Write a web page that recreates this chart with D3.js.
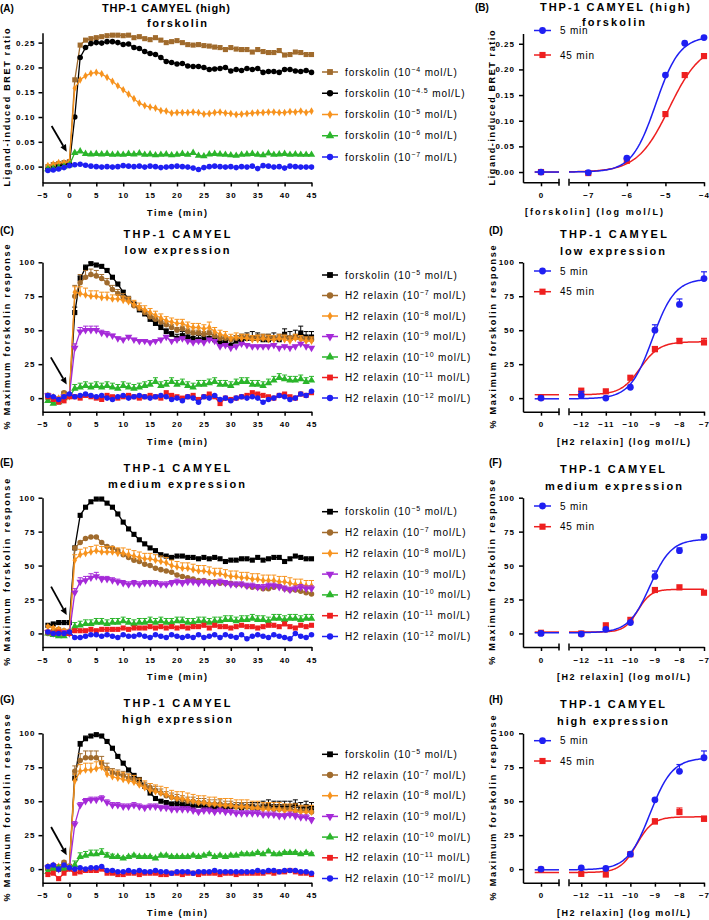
<!DOCTYPE html>
<html><head><meta charset="utf-8">
<script src="https://cdn.jsdelivr.net/npm/d3@7/dist/d3.min.js"></script>
<style>
html,body{margin:0;padding:0;background:#fff;}
svg text{font-family:'Liberation Sans',Arial,Helvetica,sans-serif;fill:#000;}
</style></head><body>
<svg id="chart" width="709" height="920"></svg>
<script>
// ---------------- DATA ----------------
const time = [-4,-3,-2,-1,0,1,2,3,4,5,6,7,8,9,10,11,12,13,14,15,16,17,18,19,20,21,22,23,24,25,26,27,28,29,30,31,32,33,34,35,36,37,38,39,40,41,42,43,44,45];
const timeTicks = [-5,0,5,10,15,20,25,30,35,40,45];
const bretTicks = [0,0.05,0.10,0.15,0.20,0.25];
const pctTicks = [0,25,50,75,100];

// Panel A (BRET ratio)
const A_fsk4 = [0.000,0.004,0.006,0.008,0.010, 0.175,0.245,0.255,0.258,0.260,0.262,0.264,0.265,0.265,0.264, 0.265,0.260,0.262,0.258,0.256,0.260,0.255,0.250,0.252,0.254, 0.250,0.246,0.245,0.246,0.244,0.243,0.241,0.240,0.236,0.240, 0.237,0.236,0.236,0.231,0.236,0.232,0.230,0.230,0.234,0.225, 0.226,0.231,0.230,0.226,0.226];
const A_fsk45 = [-0.006,-0.004,0.000,0.004,0.005, 0.100,0.220,0.240,0.248,0.250,0.249,0.252,0.252,0.250,0.246, 0.247,0.240,0.238,0.232,0.228,0.226,0.220,0.212,0.210,0.207, 0.208,0.203,0.202,0.202,0.200,0.196,0.197,0.198,0.200,0.193, 0.196,0.194,0.198,0.196,0.198,0.190,0.192,0.192,0.190,0.196, 0.196,0.193,0.192,0.194,0.190];
const A_fsk5 = [0.002,0.005,0.008,0.008,0.010, 0.158,0.175,0.183,0.188,0.190,0.187,0.180,0.172,0.163,0.155, 0.146,0.137,0.128,0.123,0.120,0.118,0.113,0.112,0.108,0.109, 0.109,0.109,0.110,0.109,0.106,0.107,0.109,0.110,0.108,0.107, 0.105,0.106,0.107,0.108,0.109,0.109,0.110,0.110,0.109,0.109, 0.111,0.110,0.112,0.109,0.112];
const A_fsk6 = [-0.005,-0.004,-0.002,0.000,0.003, 0.028,0.031,0.026,0.025,0.026,0.025,0.026,0.024,0.025,0.024, 0.026,0.025,0.027,0.024,0.025,0.023,0.024,0.025,0.023,0.024, 0.026,0.024,0.028,0.022,0.021,0.025,0.026,0.025,0.024,0.023, 0.022,0.024,0.025,0.026,0.024,0.023,0.027,0.024,0.025,0.026, 0.024,0.025,0.024,0.024,0.024];
const A_fsk7 = [-0.008,-0.007,-0.005,-0.002,0.002, 0.004,0.005,0.003,0.001,0.000,-0.001,0.000,-0.001,0.000,0.002, 0.001,0.000,0.001,-0.001,0.001,0.000,-0.002,-0.001,0.000,0.001, 0.000,-0.001,-0.003,-0.006,-0.002,0.000,0.001,0.000,-0.001,0.000, -0.002,0.000,-0.001,0.001,-0.004,0.002,0.001,-0.001,0.000,-0.003, 0.001,0.000,-0.001,-0.001,-0.001];
const A_conc = ["\u22124","\u22124.5","\u22125","\u22126","\u22127"];

// Panel C (low expression), % max forskolin
const C_fsk = [2,0,-2,3,2, 63,88,96,99,98,97,94,89,84,78, 73,69,65,62,58,55,52,49,47,44, 46,45,44,43,44,44,43,41,41,39, 42,43,44,44,44,43,43,44,43,47, 44,45,48,45,45];
const C_fsk_err = [0,0,0,0,0, 4,2,2,1,1,1,1,1,1,1, 1,1,1,2,2,2,2,2,2,3, 3,3,3,3,3,3,3,4,3,4, 4,4,4,5,4,4,4,4,4,4, 5,5,5,4,4];
const C_rlx7 = [1,0,-1,4,2, 75,85,89,91,90,88,85,80,77,74, 72,68,66,63,60,58,56,54,52,50, 51,49,48,48,47,48,46,44,44,43, 44,45,45,44,45,44,45,44,44,45, 44,45,44,43,43];
const C_rlx7_err = [1,1,1,1,1, 8,6,5,4,4,3,3,3,3,3, 3,3,2,2,2,2,2,2,2,2, 2,2,2,2,2,2,2,2,2,2, 2,2,2,2,2,2,2,2,2,2, 2,2,2,2,2];
const C_rlx8 = [2,1,0,2,1, 78,77,76,75,75,74,74,73,73,72, 71,69,67,65,63,61,59,57,56,55, 55,53,52,52,51,52,49,47,46,44, 45,44,44,43,43,44,43,43,44,43, 42,44,43,42,42];
const C_rlx8_err = [1,1,1,1,1, 4,5,5,4,4,4,4,3,3,3, 3,3,3,3,3,3,3,3,3,3, 3,3,3,3,3,4,3,3,3,3, 3,3,3,3,3,3,3,3,3,3, 3,3,3,3,3];
const C_rlx9 = [2,0,-1,1,2, 37,49,50,50,50,48,47,46,44,43, 45,43,42,42,41,42,43,45,42,43, 44,42,41,42,41,43,42,38,39,37, 38,40,39,38,38,38,38,39,37,38, 37,38,40,38,37];
const C_rlx9_err = [1,1,1,1,1, 3,3,3,3,3,2,2,1,1,1, 1,1,1,1,1,1,1,1,1,1, 1,1,1,1,1,1,1,1,1,1, 1,1,1,1,1,1,1,1,1,1, 1,1,1,1,1];
const C_rlx10 = [-2,-4,-3,0,1, 7,8,9,8,9,8,9,8,7,9, 8,7,8,9,10,12,9,10,12,10, 11,9,8,10,10,11,12,10,10,9, 11,12,12,10,10,9,11,13,15,14, 13,13,14,12,13];
const C_rlx10_err = [1,1,1,1,1, 3,3,3,3,3,3,3,3,3,3, 3,3,3,3,3,3,3,3,3,3, 3,3,3,3,3,3,3,3,3,3, 3,3,3,3,3,3,3,3,3,3, 3,3,3,3,3];
const C_rlx11 = [1,-1,-3,-2,1, 1,0,2,1,0,-1,2,1,0,1, 2,1,0,1,2,1,0,4,2,1, 0,1,2,-1,1,3,1,-4,0,-1, 0,1,2,4,3,2,1,0,2,3, 1,0,3,2,4];
const C_rlx12 = [2,1,-1,1,3, 1,2,3,2,1,2,0,-1,1,2, 0,1,2,1,0,1,2,1,-1,0, -2,1,0,-3,1,0,2,-1,0,-2, 0,1,0,1,0,-3,-1,0,2,1, -1,0,3,2,5];

// Panel E (medium expression)
const E_fsk = [6,7,8,8,8, 63,87,93,97,99,99,96,93,88,82, 77,73,69,66,63,61,58,57,56,57, 57,56,56,55,56,55,56,55,53,54, 54,55,55,54,56,54,55,56,56,53, 55,57,56,55,55];
const E_rlx7 = [0,2,3,2,1, 63,67,70,71,71,67,64,63,61,58, 56,54,53,51,50,48,47,46,45,43, 42,41,40,39,39,38,38,37,37,37, 36,36,35,34,34,33,33,34,35,33, 32,32,31,30,29];
const E_rlx8 = [5,4,3,2,2, 54,58,59,60,61,60,60,60,59,59, 58,57,56,55,55,54,53,52,50,49, 48,48,47,46,46,45,44,44,43,42, 42,41,41,40,40,39,39,39,38,38, 37,36,36,35,35];
const E_rlx8_err = [1,1,1,1,1, 4,4,4,4,4,4,4,4,4,4, 4,4,4,4,4,4,4,4,4,4, 4,4,4,4,4,4,4,4,4,4, 4,4,4,4,4,4,4,4,4,4, 4,4,4,4,4];
const E_rlx9 = [1,0,0,1,0, 30,38,39,41,42,40,40,39,38,37, 36,37,36,37,37,37,36,36,37,38, 37,38,38,37,38,37,37,38,37,36, 36,36,35,35,34,34,35,35,34,33, 32,33,34,33,33];
const E_rlx9_err = [1,1,1,1,1, 3,3,3,3,3,2,2,2,2,2, 2,2,2,2,2,2,2,2,2,2, 2,2,2,2,2,2,2,2,2,2, 2,2,2,2,2,2,2,2,2,2, 2,2,2,2,2];
const E_rlx10 = [0,-1,-2,-2,0, 5,6,7,7,8,8,7,8,8,9, 8,7,8,8,9,8,9,8,8,9, 9,8,8,9,9,8,9,9,10,10, 9,10,10,11,10,10,9,11,11,10, 11,11,10,11,11];
const E_rlx10_err = [1,1,1,1,1, 3,3,3,3,3,3,3,3,3,3, 3,3,3,3,3,3,3,3,3,3, 3,3,3,3,3,3,3,3,3,3, 3,3,3,3,3,3,3,3,3,3, 3,3,3,3,3];
const E_rlx11 = [1,0,1,0,0, 2,2,2,3,2,3,3,3,3,4, 3,4,4,4,5,4,5,4,5,4, 5,4,5,5,6,4,6,5,5,4, 5,6,5,5,4,5,6,6,5,7, 5,4,6,5,6];
const E_rlx12 = [1,0,0,0,1, -3,-3,-2,-1,-1,-2,-1,-2,-3,-1, -2,-2,-1,-2,-3,-1,-2,-3,-1,-2, -3,-2,-3,-1,-3,-2,-1,-3,-1,-2, -3,-1,-4,-2,-1,-2,-3,-1,-2,-3, -4,0,-2,-3,-1];

// Panel G (high expression)
const G_fsk = [1,2,0,3,2, 67,92,96,98,99,98,94,89,83,78, 73,69,66,61,56,52,50,49,48,48, 47,47,46,47,46,46,45,46,45,46, 46,45,46,46,45,46,47,46,46,46, 46,47,45,46,45];
const G_fsk_err = [0,0,0,0,0, 3,2,2,1,1,1,1,1,1,1, 1,1,1,1,1,1,1,1,1,2, 2,2,2,2,2,2,2,2,2,2, 3,3,3,3,4,4,4,4,4,4, 4,4,4,4,4];
const G_rlx7 = [0,1,2,5,2, 72,80,82,82,82,78,74,71,70,69, 67,66,63,61,60,58,56,54,53,52, 51,50,50,49,49,48,48,48,47,47, 46,46,46,45,45,45,45,44,44,44, 44,43,43,43,42];
const G_rlx7_err = [1,1,1,1,1, 4,5,5,5,5,5,4,3,3,3, 3,3,3,3,3,3,3,3,3,3, 3,3,3,3,3,3,3,3,3,3, 3,3,3,3,3,3,3,3,3,3, 3,3,3,3,3];
const G_rlx8 = [2,3,2,3,2, 65,72,73,73,74,75,70,68,67,66, 65,64,62,60,58,57,56,55,53,52, 52,51,50,49,49,48,48,47,47,47, 46,46,46,45,45,44,44,44,44,43, 43,43,42,42,42];
const G_rlx8_err = [1,1,1,1,1, 5,5,5,5,5,5,5,5,5,5, 5,5,5,5,5,5,5,5,5,5, 5,5,5,5,5,5,5,5,5,5, 5,5,5,5,5,5,5,5,5,5, 5,5,5,5,5];
const G_rlx9 = [1,2,0,1,1, 33,47,50,51,51,52,49,47,47,46, 46,47,46,45,46,46,45,45,44,44, 44,44,43,42,43,43,42,43,42,42, 41,41,41,41,41,40,40,40,39,39, 40,39,38,38,36];
const G_rlx9_err = [1,1,1,1,1, 2,2,2,2,2,2,2,2,2,2, 2,2,2,2,2,2,2,2,2,2, 2,2,2,2,2,2,2,2,2,2, 2,2,2,2,2,2,2,2,2,2, 2,2,2,2,2];
const G_rlx10 = [-2,0,1,0,1, 3,9,10,11,11,12,10,9,9,8, 9,10,9,9,9,8,10,10,9,9, 9,9,10,9,10,11,9,10,9,10, 10,11,11,11,12,11,13,11,11,12, 12,12,11,12,11];
const G_rlx10_err = [1,1,1,1,1, 3,3,3,3,3,3,2,2,1,1, 1,1,1,1,1,1,1,1,1,1, 1,1,1,1,1,1,1,1,1,1, 1,1,1,1,1,1,1,1,1,1, 1,1,1,1,1];
const G_rlx11 = [-4,-3,-7,-3,0, -3,-2,-1,-1,-1,0,-3,-3,-4,-4, -3,-3,-4,-3,-3,-3,-4,-4,-3,-3, -4,-3,-3,-4,-3,-3,-3,-4,-3,-3, -4,-3,-3,-3,-3,-3,-2,-3,-2,-2, -1,-2,-3,-3,-4];
const G_rlx12 = [2,3,0,3,1, 0,1,0,1,1,2,-1,-1,-2,-2, -1,-2,-1,-2,-2,-1,-2,-2,-3,-2, -2,-2,-3,-2,-2,-2,-1,-2,-2,-2, -2,-2,-2,-2,-1,-2,-1,-1,-2,-1, -1,-1,-2,-2,-3];

const relaxinNames = ["forskolin","H2 relaxin","H2 relaxin","H2 relaxin","H2 relaxin","H2 relaxin","H2 relaxin"];
const relaxinConc = ["\u22125","\u22127","\u22128","\u22129","\u221210","\u221211","\u221212"];

// Concentration-response panels
const fskLog = [-7,-6,-5,-4.5,-4];
const fskTicks = [-7,-6,-5,-4];
const B_5min = [-0.001,0.027,0.189,0.251,0.262];
const B_45min = [-0.002,0.022,0.113,0.189,0.226];
const B_ctrl = [0.000, 0.000];            // [5 min, 45 min] at "0"
const B_fit5 = [0, 0.265, -5.25, 1.4];     // bottom, top, logEC50, hill
const B_fit45 = [0, 0.25, -4.9, 1.05];

const rlxLog = [-12,-11,-10,-9,-8,-7];
const D_5min = [2,0,8,50,69,88];
const D_5min_err = [3,1,1,4,4,5];
const D_45min = [5.5,5,15,36,42,41];
const D_45min_err = [1,1,1,2,2,3];
const D_ctrl = [0, 0.5];
const D_fit5 = [-0.5, 88, -9.1, 0.95];
const D_fit45 = [2.5, 41.5, -9.6, 1.1];

const F_5min = [-0.5,3,8,42,61,71];
const F_5min_err = [1,1,1,4,2,2];
const F_45min = [0,6,10,32,34,30];
const F_45min_err = [1,1,1,1,1,1];
const F_ctrl = [0, 0.5];
const F_fit5 = [0.5, 69.5, -9.2, 1.0];
const F_fit45 = [1, 32.5, -9.7, 1.6];

const H_5min = [1,0.5,11,51,72,82];
const H_5min_err = [1,1,1,1,5,5];
const H_45min = [-3.5,-4,11,35,42,37];
const H_45min_err = [1,1,1,2,3,2];
const H_ctrl = [0, -0.5];
const H_fit5 = [-0.5, 82, -9.2, 0.95];
const H_fit45 = [-2.5, 38.5, -9.75, 1.3];

// ---------------- DRAWING ----------------
const COL = {brown:"#a06b2d", black:"#000000", orange:"#f7931e", purple:"#a52ad8", green:"#2bb52b", red:"#ee1f1f", blue:"#1f1ff2"};
const SIZE = {square:26, circle:24, diamond:17, triUp:24, triDown:24};
const svg = d3.select("#chart");
const minus = d => (d < 0 ? "\u2212" + Math.abs(d) : String(d));

function symbolPath(shape, size){
  const t = {square:d3.symbolSquare, circle:d3.symbolCircle, diamond:d3.symbolDiamond, triUp:d3.symbolTriangle, triDown:d3.symbolTriangle}[shape];
  return d3.symbol(t, size)();
}
function place(x, y, shape){ return `translate(${x},${y})` + (shape === "triDown" ? " rotate(180)" : ""); }

function styleAxis(a){
  a.select(".domain").attr("stroke","#000").attr("stroke-width",1.5);
  a.selectAll(".tick line").attr("stroke","#000").attr("stroke-width",1.5);
  a.selectAll(".tick text").attr("font-size",8).attr("font-weight","bold").attr("letter-spacing","1px").attr("fill","#000")
    .attr("font-family","'Liberation Sans',Arial,sans-serif");
}
function text(g, x, y, s, o){
  const t = g.append("text").attr("x",x).attr("y",y).text(s)
    .attr("font-size",o.size||10).attr("font-weight",o.weight||"normal")
    .attr("text-anchor",o.anchor||"start");
  if (o.len){ t.attr("textLength",o.len).attr("lengthAdjust","spacing"); }
  if (o.rotate){ t.attr("transform",`rotate(-90,${x},${y})`); }
  if (o.ls){ t.attr("letter-spacing",o.ls); }
  return t;
}
function headers(g, p){
  text(g, p.letter[1], p.letter[2], p.letter[0], {size:10, weight:"bold"});
  p.titles.forEach(t => text(g, t[1], t[2], t[0], {size:11, weight:"bold", anchor:"middle", len:t[3]}));
}

function timePanel(p){
  const g = svg.append("g");
  const x = d3.scaleLinear().domain([-5,45]).range([42.5,311.5]);
  const y = d3.scaleLinear().domain(p.yDomain).range(p.yRange);
  const y0 = p.yRange[0];
  styleAxis(g.append("g").attr("transform",`translate(0,${y0})`)
    .call(d3.axisBottom(x).tickValues(timeTicks).tickSize(4).tickPadding(6).tickSizeOuter(0).tickFormat(minus)));
  styleAxis(g.append("g").attr("transform",`translate(${x(-5)},0)`)
    .call(d3.axisLeft(y).tickValues(p.yTicks).tickSize(4).tickPadding(3).tickSizeOuter(0).tickFormat(p.fmt)));

  p.series.forEach(s => {
    const pts = time.map((t,i) => ({t, v:s.vals[i], e: s.err ? s.err[i] : 0}));
    if (s.err){
      const eb = g.append("g").attr("stroke", s.color).attr("stroke-width",1);
      pts.forEach(d => {
        if (d.e > 0){
          const px = x(d.t), py = y(d.v), pe = y(d.v + d.e);
          eb.append("line").attr("x1",px).attr("x2",px).attr("y1",py).attr("y2",pe);
          eb.append("line").attr("x1",px-2.5).attr("x2",px+2.5).attr("y1",pe).attr("y2",pe);
        }
      });
    }
    g.append("path").datum(pts).attr("fill","none").attr("stroke",s.color).attr("stroke-width",1.3)
      .attr("d", d3.line().x(d => x(d.t)).y(d => y(d.v)));
    g.append("g").selectAll("path").data(pts).join("path")
      .attr("transform", d => place(x(d.t), y(d.v), s.shape))
      .attr("d", symbolPath(s.shape, SIZE[s.shape])).attr("fill", s.color);
  });

  // arrow
  const [ta, va, tb, vb] = p.arrow;
  const x1 = x(ta), y1 = y(va), x2 = x(tb), y2 = y(vb);
  const ang = Math.atan2(y2-y1, x2-x1), hl = 7, hw = 3.2;
  const bx = x2 - hl*Math.cos(ang), by = y2 - hl*Math.sin(ang);
  g.append("line").attr("x1",x1).attr("y1",y1).attr("x2",bx).attr("y2",by).attr("stroke","#000").attr("stroke-width",1.8);
  g.append("path").attr("fill","#000")
    .attr("d",`M${x2},${y2}L${bx - hw*Math.sin(ang)},${by + hw*Math.cos(ang)}L${bx + hw*Math.sin(ang)},${by - hw*Math.cos(ang)}Z`);

  // legend
  p.series.forEach((s,i) => {
    const ly = p.legendY0 + i*p.legendDy;
    g.append("line").attr("x1",322).attr("x2",338).attr("y1",ly).attr("y2",ly).attr("stroke",s.color).attr("stroke-width",1.5);
    g.append("path").attr("transform",place(330,ly,s.shape)).attr("d",symbolPath(s.shape, SIZE[s.shape]*1.3)).attr("fill",s.color);
    const t = g.append("text").attr("x",345).attr("y",ly+3.5).attr("font-size",10).attr("letter-spacing","0.9px");
    t.append("tspan").text(s.name + " (10");
    t.append("tspan").attr("dy",-4).attr("font-size",7).text(s.sup);
    t.append("tspan").attr("dy",4).text(" mol/L)");
  });

  headers(g, p);
  text(g, 177, y0 + 33, "Time (min)", {size:9, weight:"bold", anchor:"middle", len:60});
  const yc = (p.yRange[0] + p.yRange[1]) / 2;
  text(g, 10, yc, p.yTitle, {size:9, weight:"bold", anchor:"middle", len:p.yTitleLen, rotate:true});
}

function dosePanel(p){
  const g = svg.append("g");
  const s1 = d3.scaleLinear().domain([-1,1]).range([523,559]);
  const s2 = d3.scaleLinear().domain(p.xDomain).range([569,704]);
  const y = d3.scaleLinear().domain(p.yDomain).range(p.yRange);
  const y0 = p.yRange[0];
  styleAxis(g.append("g").attr("transform",`translate(523,0)`)
    .call(d3.axisLeft(y).tickValues(p.yTicks).tickSize(4).tickPadding(4).tickSizeOuter(0).tickFormat(p.fmt)));
  styleAxis(g.append("g").attr("transform",`translate(0,${y0})`)
    .call(d3.axisBottom(s1).tickValues([0]).tickSize(4).tickPadding(6).tickSizeOuter(0).tickFormat(minus)));
  styleAxis(g.append("g").attr("transform",`translate(0,${y0})`)
    .call(d3.axisBottom(s2).tickValues(p.xTicks).tickSize(4).tickPadding(6).tickSizeOuter(0).tickFormat(minus)));
  [559, 569].forEach(bx => g.append("line").attr("x1",bx).attr("x2",bx).attr("y1",y0-3.5).attr("y2",y0+3.5)
    .attr("stroke","#000").attr("stroke-width",1.5));

  const hill = (xv, c) => c[0] + (c[1]-c[0]) / (1 + Math.pow(10, (c[2]-xv)*c[3]));
  // draw 45 min first, then 5 min on top
  [1,0].forEach(k => {
    const s = p.series[k];
    const xsCurve = d3.range(0, 121).map(i => p.xDomain[0] + (p.xDomain[1]-p.xDomain[0]) * i / 120);
    g.append("path").datum(xsCurve).attr("fill","none").attr("stroke",s.color).attr("stroke-width",1.5)
      .attr("d", d3.line().x(d => s2(d)).y(d => y(hill(d, s.fit))));
    g.append("line").attr("x1",s1(-0.35)).attr("x2",s1(1)).attr("y1",y(s.fit[0])).attr("y2",y(s.fit[0]))
      .attr("stroke",s.color).attr("stroke-width",1.5);
    const pts = p.xs.map((xv,i) => ({px:s2(xv), v:s.vals[i], e: s.err ? s.err[i] : 0}));
    pts.push({px:s1(0), v:s.ctrl, e:0});
    const eb = g.append("g").attr("stroke",s.color).attr("stroke-width",1.2);
    pts.forEach(d => {
      if (d.e > 1.5){
        const py = y(d.v), pe = y(d.v + d.e);
        eb.append("line").attr("x1",d.px).attr("x2",d.px).attr("y1",py).attr("y2",pe);
        eb.append("line").attr("x1",d.px-3).attr("x2",d.px+3).attr("y1",pe).attr("y2",pe);
      }
    });
    g.append("g").selectAll("path").data(pts).join("path")
      .attr("transform", d => place(d.px, y(d.v), s.shape))
      .attr("d", symbolPath(s.shape, s.size)).attr("fill", s.color);
  });

  // legend
  p.series.forEach((s,i) => {
    const ly = p.legendY[i];
    g.append("line").attr("x1",534).attr("x2",551).attr("y1",ly).attr("y2",ly).attr("stroke",s.color).attr("stroke-width",1.5);
    g.append("path").attr("transform",place(542.5,ly,s.shape)).attr("d",symbolPath(s.shape,s.size)).attr("fill",s.color);
    text(g, 560, ly+3.5, s.name, {size:10, ls:"0.8px"});
  });

  headers(g, p);
  text(g, p.xTitle[1], y0 + 33, p.xTitle[0], {size:9, weight:"bold", anchor:"middle", len:p.xTitle[2]});
  const yc = (p.yRange[0] + p.yRange[1]) / 2;
  text(g, 495.5, yc, p.yTitle, {size:9, weight:"bold", anchor:"middle", len:p.yTitleLen, rotate:true});
}

// ---- Left column ----
const shapesR = ["square","circle","diamond","triDown","triUp","square","circle"];
const colorsR = [COL.black, COL.brown, COL.orange, COL.purple, COL.green, COL.red, COL.blue];
function relaxinSeries(vals, errs){
  return vals.map((v,i) => ({name:relaxinNames[i], sup:relaxinConc[i], vals:v, err:errs[i], color:colorsR[i], shape:shapesR[i]}));
}
const pctFmt = d => String(d);

timePanel({
  yDomain:[-0.032,0.27], yRange:[182.5,32.7], yTicks:bretTicks, fmt:d3.format(".2f"),
  series:[
    {name:"forskolin", sup:A_conc[0], vals:A_fsk4, color:COL.brown, shape:"square"},
    {name:"forskolin", sup:A_conc[1], vals:A_fsk45, color:COL.black, shape:"circle"},
    {name:"forskolin", sup:A_conc[2], vals:A_fsk5, color:COL.orange, shape:"diamond"},
    {name:"forskolin", sup:A_conc[3], vals:A_fsk6, color:COL.green, shape:"triUp"},
    {name:"forskolin", sup:A_conc[4], vals:A_fsk7, color:COL.blue, shape:"circle"}
  ],
  arrow:[-3.3,0.082,-0.5,0.030],
  legendY0:72, legendDy:21.25,
  letter:["(A)",0,12],
  titles:[["THP-1 CAMYEL (high)",166,12,128],["forskolin",177,27,60]],
  yTitle:"Ligand-induced BRET ratio", yTitleLen:158
});
timePanel({
  yDomain:[-10,100], yRange:[411.7,262.3], yTicks:pctTicks, fmt:pctFmt,
  series: relaxinSeries([C_fsk,C_rlx7,C_rlx8,C_rlx9,C_rlx10,C_rlx11,C_rlx12],[C_fsk_err,C_rlx7_err,C_rlx8_err,C_rlx9_err,C_rlx10_err,null,null]),
  arrow:[-3.45,30,-0.5,10],
  legendY0:275, legendDy:20.5,
  letter:["(C)",0,234],
  titles:[["THP-1 CAMYEL",177,238,107],["low expression",177,254,105]],
  yTitle:"% Maximum forskolin response", yTitleLen:185
});
timePanel({
  yDomain:[-10,100], yRange:[647,497.7], yTicks:pctTicks, fmt:pctFmt,
  series: relaxinSeries([E_fsk,E_rlx7,E_rlx8,E_rlx9,E_rlx10,E_rlx11,E_rlx12],[null,null,E_rlx8_err,E_rlx9_err,E_rlx10_err,null,null]),
  arrow:[-3.4,34.5,-0.5,13.6],
  legendY0:511.7, legendDy:20.8,
  letter:["(E)",0,465.5],
  titles:[["THP-1 CAMYEL",177,472.3,107],["medium expression",176.5,488.3,137]],
  yTitle:"% Maximum forskolin response", yTitleLen:187
});
timePanel({
  yDomain:[-10,100], yRange:[882.7,733.3], yTicks:pctTicks, fmt:pctFmt,
  series: relaxinSeries([G_fsk,G_rlx7,G_rlx8,G_rlx9,G_rlx10,G_rlx11,G_rlx12],[G_fsk_err,G_rlx7_err,G_rlx8_err,G_rlx9_err,G_rlx10_err,null,null]),
  arrow:[-3.4,31,-0.5,10.3],
  legendY0:754.3, legendDy:20.7,
  letter:["(G)",0,703],
  titles:[["THP-1 CAMYEL",177,707.3,107],["high expression",177,723.3,110]],
  yTitle:"% Maximum forskolin response", yTitleLen:187
});

// ---- Right column ----
function doseSeries(v5, e5, v45, e45, ctrl, f5, f45){
  return [
    {name:"5 min", color:COL.blue, shape:"circle", size:36, vals:v5, err:e5, ctrl:ctrl[0], fit:f5},
    {name:"45 min", color:COL.red, shape:"square", size:38, vals:v45, err:e45, ctrl:ctrl[1], fit:f45}
  ];
}
dosePanel({
  yDomain:[-0.02,0.27], yRange:[182.3,33.5], yTicks:bretTicks, fmt:d3.format(".2f"),
  xDomain:[-7.5,-4], xTicks:fskTicks, xs:fskLog,
  series: doseSeries(B_5min,null,B_45min,null,B_ctrl,B_fit5,B_fit45),
  legendY:[30.5,55],
  letter:["(B)",475,10.5],
  titles:[["THP-1 CAMYEL (high)",615,10.7,150],["forskolin",613.5,26,63]],
  xTitle:["[forskolin] (log mol/L)",594,138],
  yTitle:"Ligand-induced BRET ratio", yTitleLen:155
});
dosePanel({
  yDomain:[-10,100], yRange:[411.7,262.3], yTicks:pctTicks, fmt:pctFmt,
  xDomain:[-12.5,-7], xTicks:rlxLog, xs:rlxLog,
  series: doseSeries(D_5min,D_5min_err,D_45min,D_45min_err,D_ctrl,D_fit5,D_fit45),
  legendY:[271,291.7],
  letter:["(D)",489,234],
  titles:[["THP-1 CAMYEL",613.5,238.3,107],["low expression",612.5,255,105]],
  xTitle:["[H2 relaxin] (log mol/L)",623.5,133],
  yTitle:"% Maximum forskolin response", yTitleLen:183
});
dosePanel({
  yDomain:[-10,100], yRange:[647,497.7], yTicks:pctTicks, fmt:pctFmt,
  xDomain:[-12.5,-7], xTicks:rlxLog, xs:rlxLog,
  series: doseSeries(F_5min,F_5min_err,F_45min,F_45min_err,F_ctrl,F_fit5,F_fit45),
  legendY:[506,526.7],
  letter:["(F)",489,465.5],
  titles:[["THP-1 CAMYEL",612.5,473,105],["medium expression",613.5,489.7,137]],
  xTitle:["[H2 relaxin] (log mol/L)",623.5,133],
  yTitle:"% Maximum forskolin response", yTitleLen:185
});
dosePanel({
  yDomain:[-10,100], yRange:[882.7,733.3], yTicks:pctTicks, fmt:pctFmt,
  xDomain:[-12.5,-7], xTicks:rlxLog, xs:rlxLog,
  series: doseSeries(H_5min,H_5min_err,H_45min,H_45min_err,H_ctrl,H_fit5,H_fit45),
  legendY:[740.7,761],
  letter:["(H)",489,703],
  titles:[["THP-1 CAMYEL",612.5,708.3,105],["high expression",612.5,724.7,111]],
  xTitle:["[H2 relaxin] (log mol/L)",623.5,133],
  yTitle:"% Maximum forskolin response", yTitleLen:185
});
</script></body></html>
